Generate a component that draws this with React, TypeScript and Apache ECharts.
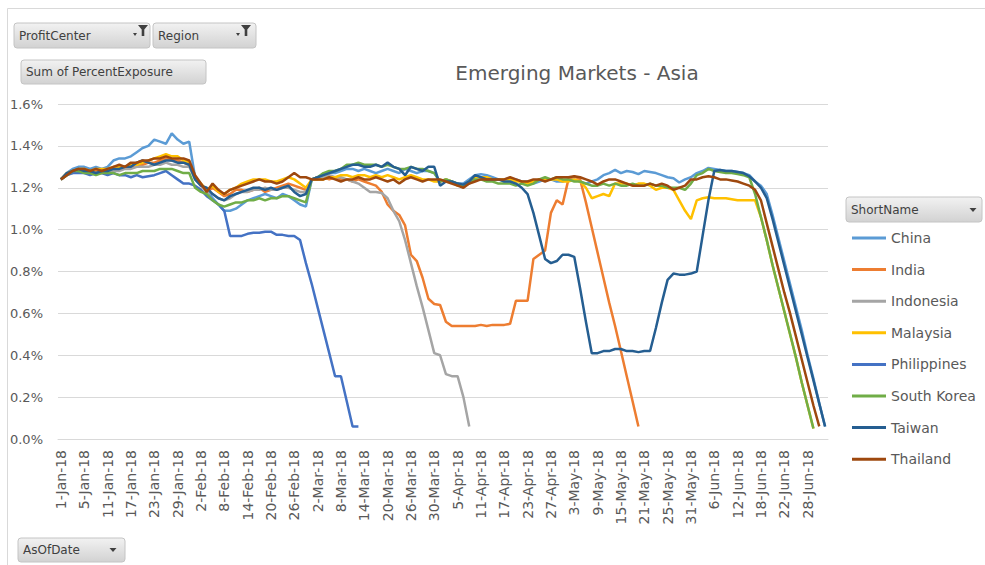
import React, { useEffect, useRef } from "react";
import * as echarts from "echarts";

// ---------- data ----------
const seriesNames = ["China", "India", "Indonesia", "Malaysia", "Philippines", "South Korea", "Taiwan", "Thailand"];
const seriesColors = ["#5B9BD5", "#ED7D31", "#A5A5A5", "#FFC000", "#4472C4", "#70AD47", "#255E91", "#9E480E"];

const MONTHS = ["Jan", "Feb", "Mar", "Apr", "May", "Jun", "Jul", "Aug", "Sep", "Oct", "Nov", "Dec"];
// business days (AsOfDate) from 1-Jan-18 to 3-Jul-18
function businessDays(y: number, m: number, d: number, count: number): string[] {
  const out: string[] = [];
  const dt = new Date(Date.UTC(y, m, d));
  while (out.length < count) {
    const wd = dt.getUTCDay();
    if (wd !== 0 && wd !== 6) out.push(`${dt.getUTCDate()}-${MONTHS[dt.getUTCMonth()]}-18`);
    dt.setUTCDate(dt.getUTCDate() + 1);
  }
  return out;
}
const asOfDates = businessDays(2018, 0, 1, 132);

const yMin = 0;
const yMax = 1.6;
const yStep = 0.2;

const china = [
  1.24, 1.27, 1.29, 1.30, 1.30, 1.29, 1.30, 1.29, 1.30, 1.33,
  1.34, 1.34, 1.35, 1.37, 1.39, 1.40, 1.43, 1.42, 1.41, 1.46,
  1.43, 1.41, 1.42, 1.25, 1.21, 1.19, 1.15, 1.12, 1.09, 1.09,
  1.10, 1.12, 1.14, 1.15, 1.16, 1.17, 1.16, 1.15, 1.17, 1.16,
  1.14, 1.12, 1.11, 1.24, 1.25, 1.26, 1.27, 1.27, 1.28, 1.29,
  1.29, 1.28, 1.29, 1.28, 1.27, 1.28, 1.29, 1.28, 1.27, 1.29,
  1.28, 1.27, 1.28, 1.28, 1.27, 1.23, 1.24, 1.23, 1.22, 1.22,
  1.24, 1.26, 1.265, 1.26, 1.25, 1.24, 1.24, 1.245, 1.24, 1.23,
  1.23, 1.22, 1.23, 1.24, 1.24, 1.23, 1.23, 1.24, 1.24, 1.23,
  1.22, 1.23, 1.24, 1.26, 1.27, 1.285, 1.27, 1.28, 1.275, 1.265,
  1.28, 1.275, 1.27, 1.26, 1.25, 1.245, 1.225, 1.24, 1.25, 1.27,
  1.28, 1.295, 1.29, 1.285, 1.28, 1.28, 1.275, 1.27, 1.26, 1.23,
  1.21, 1.17, 1.07, 0.96, 0.85, 0.74, 0.63, 0.52, 0.40, 0.29, 0.17, 0.06,
];

const india = [
  1.24, 1.26, 1.28, 1.28, 1.28, 1.27, 1.28, 1.28, 1.28, 1.29,
  1.29, 1.30, 1.30, 1.31, 1.31, 1.32, 1.32, 1.33, 1.34, 1.33,
  1.33, 1.32, 1.31, 1.25, 1.21, 1.18, 1.20, 1.18, 1.16, 1.17,
  1.19, 1.19, 1.18, 1.19, 1.20, 1.18, 1.19, 1.20, 1.21, 1.22,
  1.21, 1.20, 1.19, 1.24, 1.25, 1.25, 1.24, 1.25, 1.24, 1.24,
  1.23, 1.24, 1.23, 1.22, 1.21, 1.18, 1.12, 1.09, 1.07, 1.02,
  0.88, 0.85, 0.77, 0.67, 0.645, 0.64, 0.56, 0.54, 0.54, 0.54,
  0.54, 0.54, 0.545, 0.54, 0.545, 0.545, 0.545, 0.55, 0.66, 0.66,
  0.66, 0.86, 0.88, 0.90, 1.08, 1.14, 1.12, 1.24, 1.255, 1.24,
  1.13, 1.01, 0.89, 0.77, 0.65, 0.54, 0.42, 0.30, 0.18, 0.06,
];

const indonesia = [
  1.24, 1.26, 1.27, 1.28, 1.28, 1.27, 1.27, 1.27, 1.28, 1.28,
  1.28, 1.29, 1.29, 1.30, 1.30, 1.30, 1.31, 1.31, 1.32, 1.31,
  1.31, 1.30, 1.30, 1.24, 1.21, 1.18, 1.17, 1.15, 1.14, 1.15,
  1.17, 1.18, 1.18, 1.19, 1.19, 1.20, 1.19, 1.19, 1.20, 1.20,
  1.19, 1.18, 1.18, 1.24, 1.24, 1.25, 1.26, 1.25, 1.25, 1.24,
  1.23, 1.22, 1.20, 1.18, 1.18, 1.175, 1.15, 1.09, 1.04, 0.95,
  0.84, 0.73, 0.63, 0.52, 0.41, 0.40, 0.31, 0.30, 0.30, 0.20,
  0.06,
];

const malaysia = [
  1.24, 1.27, 1.28, 1.29, 1.29, 1.28, 1.29, 1.29, 1.29, 1.30,
  1.30, 1.30, 1.31, 1.31, 1.32, 1.33, 1.34, 1.35, 1.36, 1.35,
  1.35, 1.33, 1.32, 1.25, 1.22, 1.19, 1.21, 1.18, 1.17, 1.19,
  1.20, 1.22, 1.23, 1.24, 1.24, 1.24, 1.23, 1.23, 1.24, 1.25,
  1.24, 1.22, 1.20, 1.24, 1.24, 1.24, 1.25, 1.25, 1.26, 1.26,
  1.25, 1.26, 1.26, 1.25, 1.26, 1.25, 1.26, 1.25, 1.24, 1.25,
  1.26, 1.25, 1.24, 1.24, 1.23, 1.23, 1.24, 1.23, 1.21, 1.21,
  1.23, 1.25, 1.25, 1.25, 1.24, 1.24, 1.24, 1.24, 1.23, 1.23,
  1.22, 1.23, 1.24, 1.24, 1.24, 1.24, 1.23, 1.23, 1.24, 1.23,
  1.20, 1.15, 1.16, 1.17, 1.16, 1.22, 1.22, 1.22, 1.21, 1.22,
  1.22, 1.21, 1.19, 1.20, 1.20, 1.19, 1.14, 1.09, 1.05, 1.14,
  1.15, 1.155, 1.15, 1.15, 1.15, 1.145, 1.14, 1.14, 1.14, 1.14,
  1.06, 0.95, 0.83, 0.72, 0.61, 0.50, 0.39, 0.27, 0.16, 0.05,
];

const philippines = [
  1.24, 1.26, 1.27, 1.27, 1.27, 1.26, 1.27, 1.27, 1.26, 1.27,
  1.26, 1.26, 1.25, 1.26, 1.25, 1.255, 1.26, 1.27, 1.28, 1.26,
  1.24, 1.22, 1.22, 1.21, 1.19, 1.16, 1.14, 1.12, 1.09, 0.97,
  0.97, 0.97, 0.98, 0.985, 0.985, 0.99, 0.99, 0.975, 0.975, 0.97,
  0.97, 0.95, 0.84, 0.74, 0.63, 0.52, 0.41, 0.30, 0.30, 0.18,
  0.06, 0.06,
];

const southKorea = [
  1.24, 1.26, 1.28, 1.28, 1.27, 1.27, 1.26, 1.27, 1.27, 1.27,
  1.26, 1.27, 1.27, 1.27, 1.28, 1.28, 1.28, 1.29, 1.29, 1.29,
  1.28, 1.27, 1.27, 1.20, 1.18, 1.17, 1.14, 1.12, 1.11, 1.12,
  1.13, 1.13, 1.14, 1.14, 1.15, 1.14, 1.15, 1.15, 1.16, 1.16,
  1.15, 1.14, 1.13, 1.24, 1.25, 1.27, 1.28, 1.28, 1.29, 1.31,
  1.31, 1.32, 1.31, 1.31, 1.31, 1.30, 1.31, 1.30, 1.29, 1.29,
  1.30, 1.29, 1.29, 1.28, 1.27, 1.23, 1.24, 1.23, 1.22, 1.21,
  1.22, 1.24, 1.24, 1.23, 1.23, 1.22, 1.22, 1.22, 1.21, 1.22,
  1.21, 1.22, 1.24, 1.25, 1.24, 1.25, 1.24, 1.24, 1.23, 1.23,
  1.22, 1.21, 1.21, 1.22, 1.21, 1.22, 1.21, 1.21, 1.22, 1.21,
  1.21, 1.22, 1.21, 1.21, 1.20, 1.20, 1.20, 1.19, 1.22, 1.26,
  1.27, 1.29, 1.28, 1.275, 1.27, 1.27, 1.265, 1.26, 1.25, 1.17,
  1.06, 0.95, 0.83, 0.72, 0.61, 0.50, 0.39, 0.27, 0.16, 0.05,
];

const taiwan = [
  1.24, 1.27, 1.28, 1.29, 1.28, 1.28, 1.27, 1.28, 1.28, 1.29,
  1.29, 1.30, 1.30, 1.32, 1.33, 1.32, 1.31, 1.32, 1.33, 1.33,
  1.32, 1.32, 1.31, 1.24, 1.21, 1.20, 1.17, 1.15, 1.14, 1.16,
  1.17, 1.18, 1.19, 1.20, 1.20, 1.19, 1.20, 1.19, 1.20, 1.21,
  1.18, 1.16, 1.17, 1.24, 1.25, 1.26, 1.27, 1.28, 1.29, 1.30,
  1.31, 1.31, 1.30, 1.30, 1.31, 1.30, 1.32, 1.30, 1.29, 1.26,
  1.30, 1.29, 1.28, 1.30, 1.30, 1.21, 1.23, 1.23, 1.22, 1.215,
  1.23, 1.26, 1.25, 1.24, 1.24, 1.24, 1.23, 1.23, 1.22, 1.20,
  1.17, 1.08, 0.97, 0.86, 0.84, 0.85, 0.88, 0.88, 0.87, 0.72,
  0.56, 0.41, 0.41, 0.42, 0.42, 0.43, 0.43, 0.42, 0.42, 0.415,
  0.42, 0.42, 0.53, 0.65, 0.76, 0.79, 0.785, 0.785, 0.79, 0.80,
  0.97, 1.14, 1.28, 1.285, 1.28, 1.28, 1.275, 1.27, 1.255, 1.23,
  1.20, 1.15, 1.05, 0.94, 0.83, 0.72, 0.61, 0.50, 0.39, 0.28, 0.17, 0.06,
];

const thailand = [
  1.24, 1.26, 1.28, 1.29, 1.29, 1.28, 1.29, 1.28, 1.29, 1.30,
  1.31, 1.30, 1.32, 1.32, 1.33, 1.33, 1.34, 1.34, 1.35, 1.34,
  1.34, 1.34, 1.33, 1.26, 1.22, 1.18, 1.22, 1.19, 1.17, 1.19,
  1.20, 1.21, 1.22, 1.23, 1.24, 1.23, 1.23, 1.22, 1.23, 1.25,
  1.27, 1.25, 1.25, 1.24, 1.24, 1.24, 1.25, 1.24, 1.23, 1.24,
  1.24, 1.25, 1.24, 1.24, 1.25, 1.24, 1.23, 1.24, 1.22, 1.24,
  1.25, 1.24, 1.23, 1.24, 1.24, 1.24, 1.23, 1.22, 1.21, 1.20,
  1.22, 1.23, 1.24, 1.24, 1.24, 1.24, 1.24, 1.25, 1.24, 1.23,
  1.23, 1.24, 1.24, 1.23, 1.24, 1.25, 1.25, 1.25, 1.255, 1.25,
  1.24, 1.23, 1.215, 1.23, 1.24, 1.24, 1.23, 1.22, 1.21, 1.21,
  1.21, 1.22, 1.21, 1.22, 1.21, 1.19, 1.20, 1.21, 1.24, 1.24,
  1.25, 1.255, 1.25, 1.24, 1.24, 1.235, 1.23, 1.22, 1.21, 1.19,
  1.14, 1.03, 0.92, 0.81, 0.70, 0.60, 0.49, 0.38, 0.27, 0.16, 0.06,
];

const seriesValues = [china, india, indonesia, malaysia, philippines, southKorea, taiwan, thailand];

const chartTitle = "Emerging Markets - Asia";
const FONT = "DejaVu Sans";

function grad() {
  return new echarts.graphic.LinearGradient(0, 0, 0, 1, [
    { offset: 0, color: "#f2f2f2" },
    { offset: 1, color: "#d2d2d2" },
  ]);
}

function button(x: number, y: number, w: number, h: number, label: string): any[] {
  return [
    {
      type: "rect",
      shape: { x, y, width: w, height: h, r: 3 },
      style: { fill: grad(), stroke: "#c4c4c4", lineWidth: 1 },
      z: 10,
    },
    {
      type: "text",
      x: x + 5,
      y: y + h / 2,
      style: {
        text: label,
        fill: "#404040",
        fontSize: 12,
        fontFamily: FONT,
        textAlign: "left",
        textVerticalAlign: "middle",
      },
      z: 11,
    },
  ];
}

function funnel(x: number, y: number): any[] {
  return [
    {
      type: "polygon",
      shape: {
        points: [
          [x, y], [x + 10, y], [x + 6.3, y + 4.5], [x + 6.3, y + 11], [x + 3.7, y + 11], [x + 3.7, y + 4.5],
        ],
      },
      style: { fill: "#404040" },
      z: 12,
    },
    {
      type: "polygon",
      shape: { points: [[x - 5, y + 8], [x - 1, y + 8], [x - 3, y + 11]] },
      style: { fill: "#404040" },
      z: 12,
    },
  ];
}

function arrow(x: number, y: number): any {
  return {
    type: "polygon",
    shape: { points: [[x - 3.5, y - 2], [x + 3.5, y - 2], [x, y + 2]] },
    style: { fill: "#404040" },
    z: 12,
  };
}

export default function App() {
  const ref = useRef<HTMLDivElement>(null);

  useEffect(() => {
    document.body.style.margin = "0";
    const chart = echarts.init(ref.current!, null, { renderer: "svg" });

    const graphics: any[] = [
      {
        type: "rect",
        shape: { x: 7.5, y: 8.5, width: 1000, height: 600 },
        style: { fill: "none", stroke: "#d9d9d9", lineWidth: 1 },
        z: 0,
      },
      ...button(14, 23, 136, 25, "ProfitCenter"),
      ...funnel(138, 25),
      ...button(153, 23, 103, 25, "Region"),
      ...funnel(241, 25),
      ...button(21, 60, 185, 24, "Sum of PercentExposure"),
      ...button(846, 197, 136, 25, "ShortName"),
      arrow(973, 210),
      ...button(18, 538, 107, 24, "AsOfDate"),
      arrow(113, 550),
      {
        type: "text",
        x: 577,
        y: 73,
        style: {
          text: chartTitle,
          fill: "#595959",
          fontSize: 20,
          fontFamily: FONT,
          textAlign: "center",
          textVerticalAlign: "middle",
        },
        z: 10,
      },
    ];

    chart.setOption({
      animation: false,
      backgroundColor: "#ffffff",
      grid: { left: 58, right: 157, top: 104, bottom: 126, containLabel: false },
      legend: {
        orient: "vertical",
        left: 852,
        top: 229,
        padding: 0,
        itemWidth: 34,
        itemHeight: 3,
        itemGap: 13.6,
        icon: "rect",
        selectedMode: false,
        data: seriesNames,
        textStyle: { color: "#595959", fontSize: 14, fontFamily: FONT, lineHeight: 18 },
      },
      xAxis: {
        type: "category",
        data: asOfDates,
        boundaryGap: true,
        axisLine: { show: true, lineStyle: { color: "#D9D9D9", width: 1 } },
        axisTick: { show: false },
        axisLabel: {
          interval: 3,
          rotate: 90,
          margin: 11,
          color: "#595959",
          fontSize: 14,
          fontFamily: FONT,
        },
        splitLine: { show: false },
      },
      yAxis: {
        type: "value",
        min: yMin,
        max: yMax,
        interval: yStep,
        axisLine: { show: false },
        axisTick: { show: false },
        axisLabel: {
          margin: 15,
          color: "#595959",
          fontSize: 13,
          fontFamily: FONT,
          formatter: (v: number) => `${v.toFixed(1)}%`,
        },
        splitLine: { lineStyle: { color: "#D9D9D9", width: 1 } },
      },
      series: seriesNames.map((name, k) => ({
        name,
        type: "line",
        data: seriesValues[k],
        symbol: "none",
        showSymbol: false,
        smooth: false,
        connectNulls: false,
        lineStyle: { width: 2.5, color: seriesColors[k] },
        itemStyle: { color: seriesColors[k] },
        emphasis: { disabled: true },
      })),
      graphic: graphics,
    });

    return () => chart.dispose();
  }, []);

  return <div ref={ref} style={{ width: 985, height: 565 }} />;
}
